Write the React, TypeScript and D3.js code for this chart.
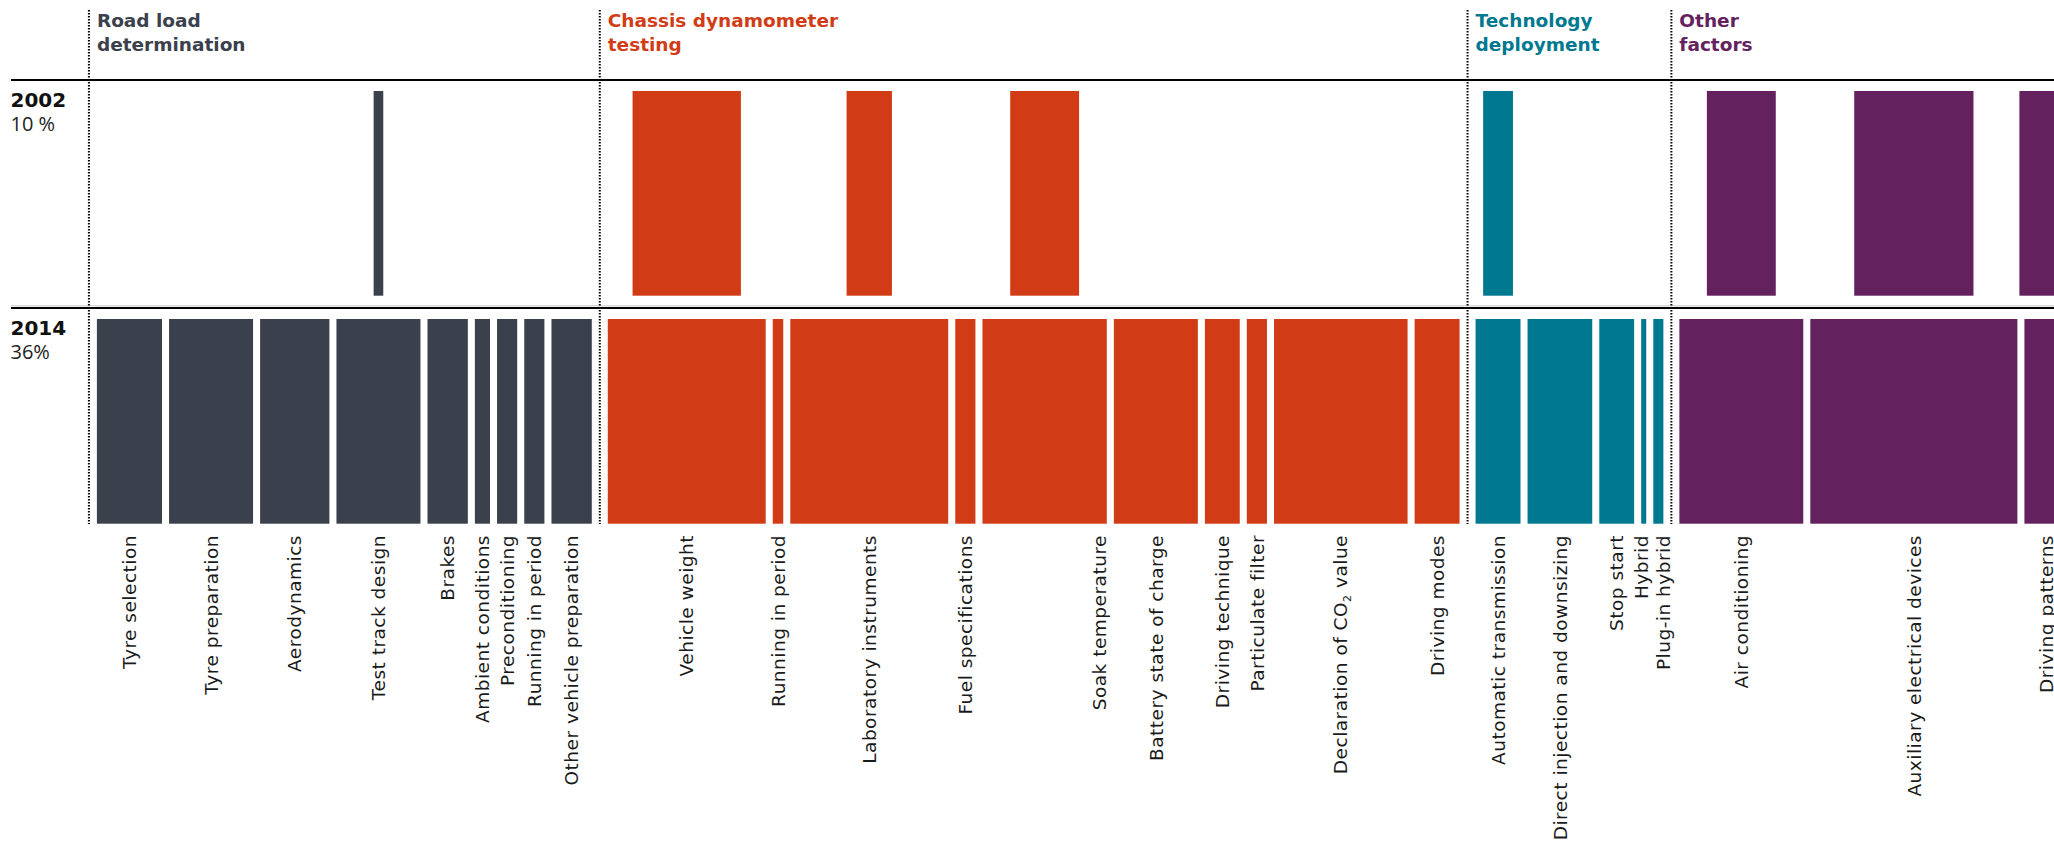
import React from "react";
import * as d3 from "d3";

// ---- Data ----
const groupHeaderLines: string[][] = [
  ["Road load", "determination"],
  ["Chassis dynamometer", "testing"],
  ["Technology", "deployment"],
  ["Other", "factors"],
];

const factors: string[] = [
  "Tyre selection",
  "Tyre preparation",
  "Aerodynamics",
  "Test track design",
  "Brakes",
  "Ambient conditions",
  "Preconditioning",
  "Running in period",
  "Other vehicle preparation",
  "Vehicle weight",
  "Running in period",
  "Laboratory instruments",
  "Fuel specifications",
  "Soak temperature",
  "Battery state of charge",
  "Driving technique",
  "Particulate filter",
  "Declaration of CO2 value",
  "Driving modes",
  "Automatic transmission",
  "Direct injection and downsizing",
  "Stop start",
  "Hybrid",
  "Plug-in hybrid",
  "Air conditioning",
  "Auxiliary electrical devices",
  "Driving patterns",
];

const factorGroup: number[] = [
  0, 0, 0, 0, 0, 0, 0, 0, 0,
  1, 1, 1, 1, 1, 1, 1, 1, 1, 1,
  2, 2, 2, 2, 2,
  3, 3, 3,
];

const values2014: number[] = [
  15.5, 20.0, 16.5, 20.0, 9.6, 3.6, 4.8, 4.8, 9.6,
  37.6, 2.5, 37.6, 4.8, 29.6, 20.0, 8.3, 4.8, 31.8, 10.7,
  10.7, 15.4, 8.3, 1.2, 2.4,
  29.5, 49.3, 10.5,
];

const values2002: number[] = [
  0, 0, 0, 2.3, 0, 0, 0, 0, 0,
  25.8, 0, 10.8, 0, 16.4, 0, 0, 0, 0, 0,
  7.1, 0, 0, 0, 0,
  16.4, 28.4, 12.9,
];

const years: string[] = ["2002", "2014"];
const gapShares: string[] = ["10 %", "36%"];

// ---- Styles / label placement tweaks (px) ----
const groupColors = ["#3b414c", "#d13c16", "#00788f", "#63215d"];
const labelFont = "'DejaVu Sans', sans-serif";
const labelNudge: Record<number, number> = { 13: 55, 22: -2, 23: 5 };

export default function App() {
  const W = 2054;
  const H = 845;
  const xs = d3.scaleLinear().domain([0, 100]).range([0, 420]);
  const startX = 96.9;
  const barGap = 7.05;
  const groupGap = 16;

  const rowTop = [91, 319];
  const rowBottom = [295.7, 523.7];
  const lineYs = [80, 308];

  let cursor = startX;
  const layout = factors.map((f, i) => {
    if (i > 0) cursor += factorGroup[i] !== factorGroup[i - 1] ? groupGap : barGap;
    const w = xs(values2014[i]);
    const x0 = cursor;
    cursor += w;
    return { name: f, g: factorGroup[i], x0, w, cx: x0 + w / 2, w2002: xs(values2002[i]) };
  });

  const groupStarts = groupHeaderLines.map((_, g) => {
    const first = layout.find((d) => d.g === g)!;
    return first.x0;
  });

  const labelY = 535;

  return (
    <svg
      width={W}
      height={H}
      style={{ position: "fixed", left: 0, top: 0, display: "block", background: "#fff" }}
    >
      <line x1={11} x2={W} y1={lineYs[0]} y2={lineYs[0]} stroke="#000" strokeWidth={2.2} />
      <line x1={11} x2={W} y1={305.8} y2={305.8} stroke="#c8c8c8" strokeWidth={1} />
      <line x1={11} x2={W} y1={lineYs[1]} y2={lineYs[1]} stroke="#000" strokeWidth={2.2} />

      {groupStarts.map((gx, g) => (
        <line
          key={"dv" + g}
          x1={gx - groupGap / 2}
          x2={gx - groupGap / 2}
          y1={10}
          y2={524}
          stroke="#000"
          strokeWidth={2}
          strokeDasharray="1.5 1.5"
        />
      ))}

      {groupHeaderLines.map((lines, g) => (
        <text
          key={"gh" + g}
          x={groupStarts[g]}
          y={26.7}
          fill={groupColors[g]}
          style={{ fontFamily: labelFont, fontWeight: 700, fontSize: 18.5 }}
        >
          {lines.map((l, j) => (
            <tspan key={j} x={groupStarts[g]} y={26.7 + j * 24.3}>
              {l}
            </tspan>
          ))}
        </text>
      ))}

      {years.map((yr, r) => (
        <g key={"yr" + yr}>
          <text
            x={10.5}
            y={r === 0 ? 107 : 335}
            fill="#111"
            style={{ fontFamily: labelFont, fontWeight: 700, fontSize: 20 }}
          >
            {yr}
          </text>
          <text
            x={10.5}
            y={r === 0 ? 131 : 358.5}
            fill="#222"
            style={{ fontFamily: "'Open Sans', sans-serif", fontWeight: 400, fontSize: 20 }}
          >
            {gapShares[r]}
          </text>
        </g>
      ))}

      {layout
        .filter((d) => d.w2002 > 0)
        .map((d, i) => (
          <rect
            key={"b02" + i}
            x={d.cx - d.w2002 / 2}
            y={rowTop[0]}
            width={d.w2002}
            height={rowBottom[0] - rowTop[0]}
            fill={groupColors[d.g]}
          />
        ))}

      {layout.map((d, i) => (
        <rect
          key={"b14" + i}
          x={d.x0}
          y={rowTop[1]}
          width={d.w}
          height={rowBottom[1] - rowTop[1]}
          fill={groupColors[d.g]}
        />
      ))}

      {layout.map((d, i) => {
        const isCO2 = d.name.includes("CO2");
        const lx = d.cx + (labelNudge[i] || 0);
        return (
          <text
            key={"lb" + i}
            transform={`translate(${lx},${labelY}) rotate(-90)`}
            textAnchor="end"
            dy="0.36em"
            fill="#1a1a1a"
            style={{ fontFamily: labelFont, fontSize: 18.5, letterSpacing: 0.5 }}
          >
            {isCO2 ? (
              <>
                {"Declaration of CO"}
                <tspan fontSize={11} dy="4">
                  2
                </tspan>
                <tspan dy="-4">{" value"}</tspan>
              </>
            ) : (
              d.name
            )}
          </text>
        );
      })}
    </svg>
  );
}
